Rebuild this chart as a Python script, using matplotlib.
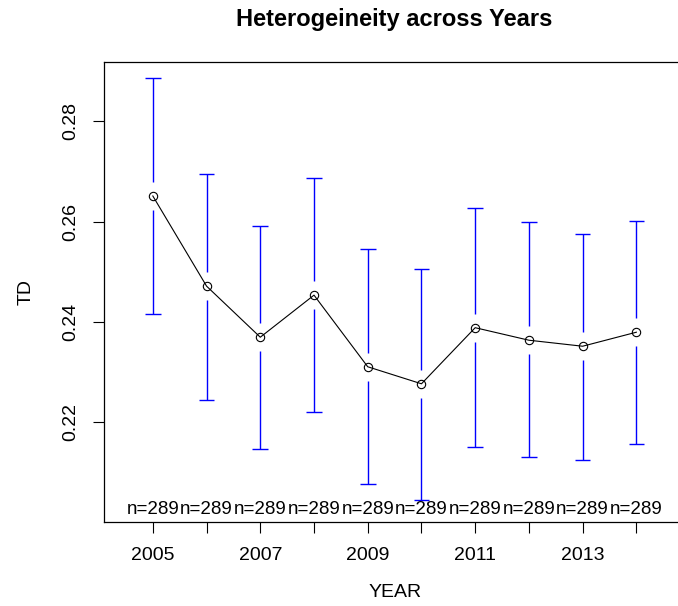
import matplotlib
matplotlib.use("Agg")
import matplotlib.pyplot as plt
import numpy as np

plt.rcParams["font.family"] = ["Liberation Sans", "DejaVu Sans"]

years = [2005, 2006, 2007, 2008, 2009, 2010, 2011, 2012, 2013, 2014]
means = [0.2651, 0.2471, 0.2369, 0.2453, 0.2310, 0.2276, 0.2388, 0.2363, 0.2351, 0.2379]
upper = [0.2886, 0.2695, 0.2591, 0.2686, 0.2546, 0.2506, 0.2626, 0.2599, 0.2575, 0.2601]
lower = [0.2415, 0.2244, 0.2146, 0.2219, 0.2075, 0.2043, 0.2149, 0.2129, 0.2123, 0.2156]
counts = [289] * 10
y_ticks = [0.22, 0.24, 0.26, 0.28]
x_labels = ["2005", "", "2007", "", "2009", "", "2011", "", "2013", ""]

fig = plt.figure(figsize=(6.78, 6.06), dpi=100)
ax = fig.add_axes([0.1541, 0.1394, 0.8558, 0.7587])

ax.set_xlim(2004.1, 2014.9)
ax.set_ylim(0.2001, 0.2919)

# bars broken around the mean, like R's plotmeans
gap = 0.0028
blue = "#0000FF"
ax.vlines(years, [m + gap for m in means], upper, color=blue, lw=1.0)
ax.vlines(years, lower, [m - gap for m in means], color=blue, lw=1.0)
cap = 0.145
ax.hlines(upper, [x - cap for x in years], [x + cap for x in years], color=blue, lw=1.0)
ax.hlines(lower, [x - cap for x in years], [x + cap for x in years], color=blue, lw=1.0)

ax.plot(years, means, color="black", lw=0.8, marker="o", markersize=6,
        markerfacecolor="none", markeredgecolor="black", markeredgewidth=0.8)

for x, n in zip(years, counts):
    ax.text(x, 0.2009, f"n={n}", ha="center", va="bottom", fontsize=13.5)

ax.set_xticks(years)
ax.set_xticklabels(x_labels)
ax.set_yticks(y_ticks)
ax.set_yticklabels([f"{v:.2f}" for v in y_ticks], rotation=90, va="center")
ax.tick_params(axis="both", length=8, width=0.8, labelsize=14)
ax.tick_params(axis="x", pad=10)
ax.tick_params(axis="y", pad=10)

for s in ["left", "bottom", "top"]:
    ax.spines[s].set_linewidth(0.9)
ax.spines["right"].set_visible(False)

ax.set_title("Heterogeineity across Years", fontsize=17, fontweight="bold", pad=26)
ax.set_xlabel("YEAR", fontsize=14, labelpad=15)
ax.set_ylabel("TD", fontsize=14, labelpad=20)

fig.savefig("out.png", dpi=100, facecolor="white")
